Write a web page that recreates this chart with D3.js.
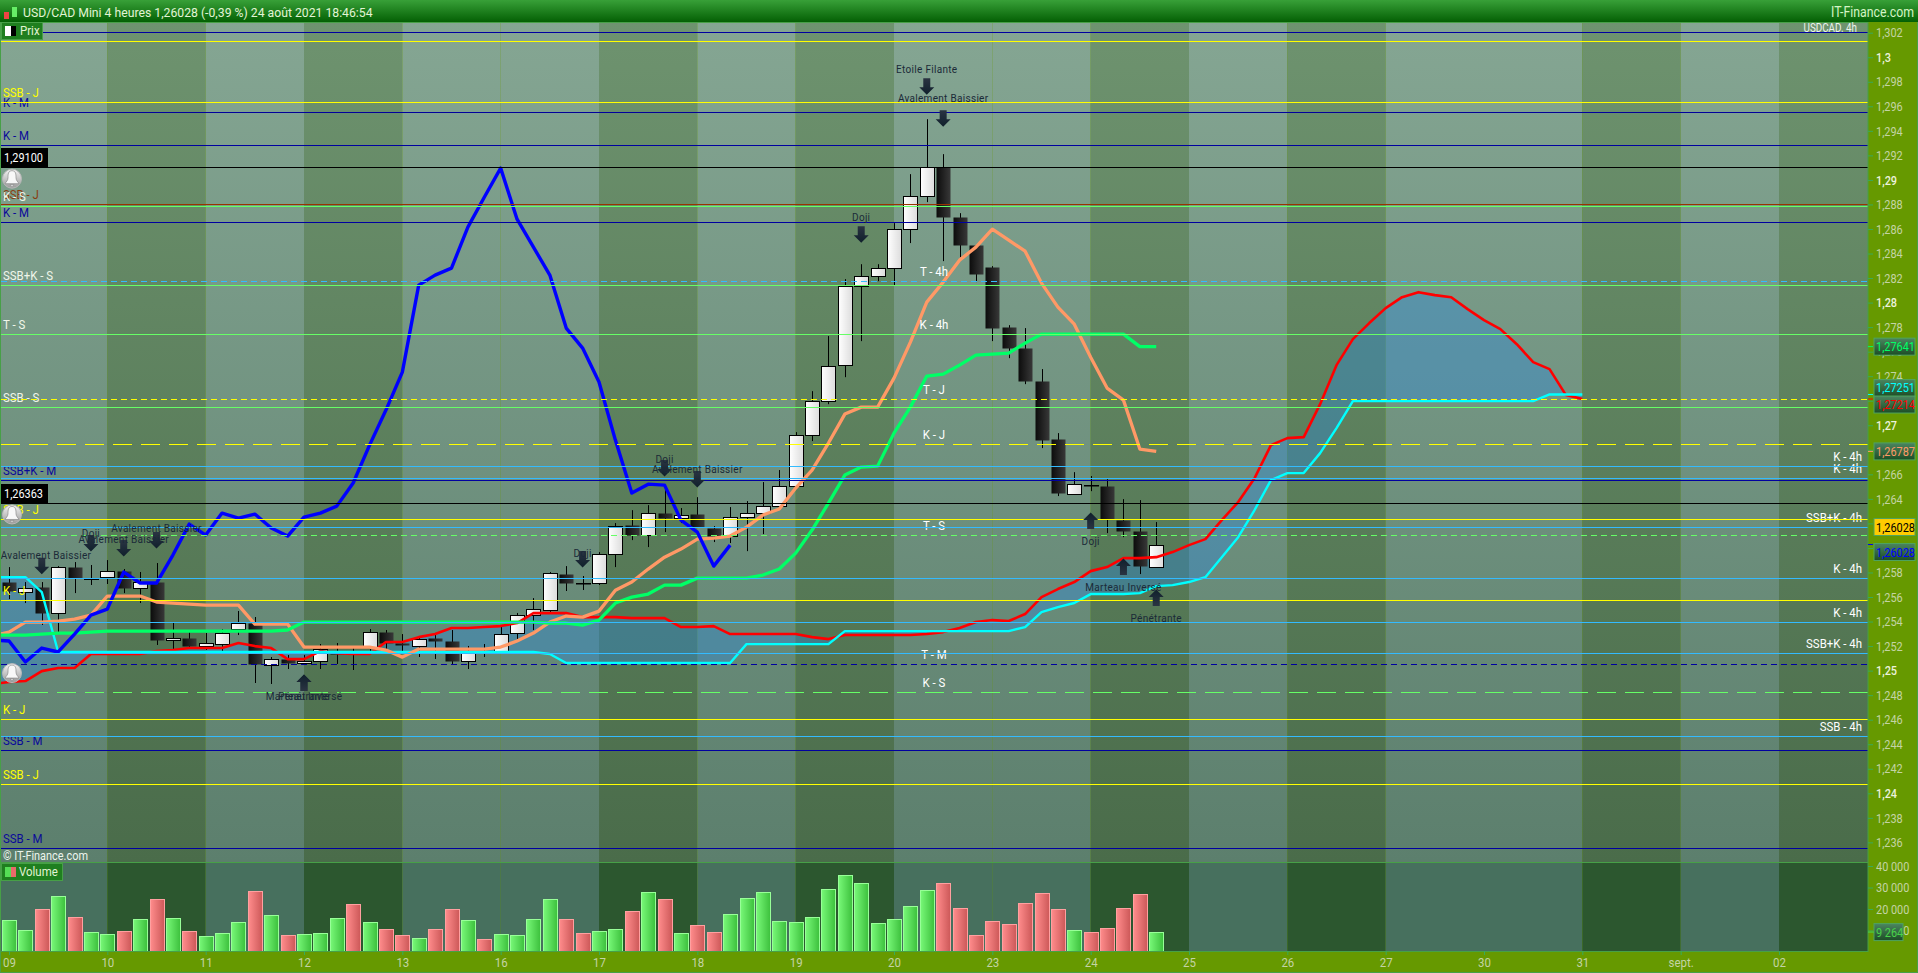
<!DOCTYPE html>
<html>
<head>
<meta charset="utf-8">
<title>USD/CAD Mini 4 heures</title>
<script src="https://cdnjs.cloudflare.com/ajax/libs/d3/7.8.5/d3.min.js"></script>
<style>
html, body { margin: 0; padding: 0; background: #669900; overflow: hidden; }
svg { display: block; font-family: Roboto, sans-serif; }
</style>
</head>
<body>
<div id="chart"></div>
<script>
// Candles (price pane)
var opens = [1.25722,1.25641,1.25681,1.25470,1.25844,1.25747,1.25763,1.25812,1.25673,1.25722,1.25250,1.25266,1.25201,1.25217,1.25339,1.25388,1.25046,1.25095,1.25062,1.25078,1.25144,1.25144,1.25193,1.25315,1.25225,1.25201,1.25266,1.25241,1.25078,1.25152,1.25144,1.25307,1.25453,1.25494,1.25787,1.25714,1.25714,1.25950,1.26186,1.26105,1.26284,1.26243,1.26276,1.26162,1.26097,1.26251,1.26284,1.26341,1.26504,1.26920,1.27197,1.27490,1.28134,1.28216,1.28281,1.28599,1.28868,1.29104,1.28696,1.28468,1.28289,1.27800,1.27629,1.27360,1.26887,1.26439,1.26512,1.26504,1.26227,1.26137,1.25852];
var closes = [1.25649,1.25673,1.25470,1.25844,1.25755,1.25755,1.25812,1.25673,1.25722,1.25250,1.25266,1.25201,1.25225,1.25307,1.25388,1.25054,1.25095,1.25062,1.25078,1.25176,1.25135,1.25135,1.25315,1.25225,1.25209,1.25258,1.25241,1.25078,1.25160,1.25160,1.25298,1.25453,1.25502,1.25796,1.25714,1.25714,1.25950,1.26178,1.26105,1.26284,1.26243,1.26268,1.26170,1.26097,1.26251,1.26284,1.26341,1.26504,1.26920,1.27197,1.27482,1.28134,1.28216,1.28281,1.28599,1.28868,1.29104,1.28696,1.28468,1.28232,1.27792,1.27629,1.27360,1.26879,1.26447,1.26520,1.26512,1.26235,1.26137,1.25852,1.26028];
var highs = [1.25844,1.25722,1.25722,1.25852,1.25885,1.25861,1.25901,1.25828,1.25804,1.25877,1.25388,1.25315,1.25307,1.25339,1.25486,1.25437,1.25111,1.25127,1.25127,1.25217,1.25225,1.25193,1.25339,1.25331,1.25298,1.25274,1.25307,1.25331,1.25201,1.25217,1.25355,1.25470,1.25591,1.25804,1.25852,1.25771,1.25966,1.26203,1.26308,1.26349,1.26512,1.26325,1.26414,1.26178,1.26333,1.26382,1.26537,1.26635,1.26944,1.27278,1.27727,1.28191,1.28313,1.28313,1.28648,1.29047,1.29495,1.29210,1.28729,1.28468,1.28297,1.27816,1.27792,1.27458,1.26936,1.26618,1.26586,1.26561,1.26398,1.26390,1.26211];
var lows = [1.25583,1.25551,1.25372,1.25307,1.25632,1.25698,1.25706,1.25632,1.25551,1.25209,1.25168,1.25184,1.25168,1.25152,1.25290,1.24899,1.24891,1.25013,1.25046,1.25013,1.25054,1.25005,1.25144,1.25144,1.25152,1.25111,1.25095,1.25054,1.25013,1.25111,1.25144,1.25250,1.25331,1.25470,1.25649,1.25657,1.25698,1.25844,1.26064,1.26007,1.26129,1.26203,1.26170,1.26048,1.26040,1.25974,1.26113,1.26333,1.26496,1.26871,1.27172,1.27392,1.27686,1.28175,1.28142,1.28485,1.28819,1.28338,1.28370,1.28167,1.27686,1.27547,1.27335,1.26814,1.26423,1.26439,1.26463,1.26121,1.26088,1.25787,1.25844];

// Ichimoku lines, the first value is the period before the first candle
var chikou = [1.25250,1.25241,1.25070,1.25184,1.25152,1.25298,1.25453,1.25502,1.25803,1.25714,1.25714,1.25942,1.26194,1.26105,1.26284,1.26243,1.26276,1.26162,1.26097,1.26251,1.26284,1.26341,1.26529,1.26838,1.27124,1.27433,1.28142,1.28224,1.28281,1.28615,1.28859,1.29096,1.28680,1.28452,1.28224,1.27792,1.27629,1.27352,1.26879,1.26447,1.26520,1.26512,1.26227,1.26129,1.25852,1.26023];
var tenkan = [1.25282,1.25314,1.25396,1.25396,1.25404,1.25420,1.25453,1.25608,1.25608,1.25608,1.25559,1.25551,1.25542,1.25534,1.25534,1.25534,1.25379,1.25379,1.25379,1.25192,1.25192,1.25192,1.25192,1.25192,1.25168,1.25110,1.25176,1.25176,1.25176,1.25176,1.25176,1.25192,1.25241,1.25306,1.25396,1.25445,1.25436,1.25485,1.25656,1.25722,1.25828,1.25925,1.25991,1.26072,1.26080,1.26097,1.26170,1.26268,1.26317,1.26488,1.26635,1.26855,1.27091,1.27148,1.27148,1.27384,1.27678,1.28004,1.28167,1.28346,1.28452,1.28599,1.28509,1.28419,1.28159,1.27963,1.27824,1.27555,1.27303,1.27205,1.26806,1.26787];
var kijun = [1.25290,1.25290,1.25290,1.25298,1.25306,1.25306,1.25314,1.25322,1.25322,1.25322,1.25322,1.25322,1.25322,1.25322,1.25322,1.25322,1.25322,1.25322,1.25331,1.25396,1.25396,1.25396,1.25396,1.25396,1.25396,1.25396,1.25396,1.25396,1.25396,1.25396,1.25396,1.25396,1.25396,1.25396,1.25388,1.25388,1.25371,1.25412,1.25551,1.25599,1.25624,1.25697,1.25697,1.25754,1.25754,1.25754,1.25754,1.25779,1.25828,1.25958,1.26146,1.26366,1.26594,1.26659,1.26667,1.26936,1.27148,1.27401,1.27417,1.27490,1.27572,1.27580,1.27588,1.27670,1.27743,1.27743,1.27743,1.27743,1.27743,1.27743,1.27641,1.27641];
var ssb = [1.24891,1.24907,1.24915,1.24996,1.25021,1.25021,1.25135,1.25135,1.25135,1.25135,1.25159,1.25168,1.25184,1.25184,1.25184,1.25225,1.25200,1.25184,1.25094,1.25094,1.25159,1.25143,1.25135,1.25135,1.25233,1.25233,1.25273,1.25298,1.25347,1.25347,1.25355,1.25363,1.25388,1.25469,1.25469,1.25469,1.25436,1.25436,1.25436,1.25428,1.25428,1.25428,1.25355,1.25355,1.25363,1.25298,1.25298,1.25298,1.25298,1.25298,1.25273,1.25257,1.25290,1.25290,1.25290,1.25290,1.25290,1.25298,1.25314,1.25347,1.25396,1.25412,1.25404,1.25461,1.25599,1.25665,1.25722,1.25811,1.25844,1.25917,1.25917,1.25925,1.25966,1.26023,1.26072,1.26227,1.26374,1.26569,1.26838,1.26895,1.26903,1.27172,1.27490,1.27702,1.27833,1.27955,1.28044,1.28085,1.28061,1.28044,1.27947,1.27857,1.27784,1.27661,1.27515,1.27458,1.27246,1.27214];
var ssa = [1.25762,1.25762,1.25762,1.25640,1.25152,1.25152,1.25152,1.25152,1.25152,1.25152,1.25152,1.25152,1.25152,1.25152,1.25152,1.25152,1.25152,1.25152,1.25152,1.25152,1.25152,1.25152,1.25152,1.25152,1.25152,1.25152,1.25152,1.25152,1.25152,1.25152,1.25152,1.25152,1.25152,1.25152,1.25135,1.25062,1.25062,1.25062,1.25062,1.25062,1.25062,1.25062,1.25062,1.25062,1.25062,1.25062,1.25216,1.25216,1.25216,1.25216,1.25216,1.25216,1.25322,1.25322,1.25322,1.25322,1.25322,1.25322,1.25322,1.25322,1.25322,1.25322,1.25322,1.25355,1.25477,1.25518,1.25551,1.25624,1.25624,1.25624,1.25632,1.25689,1.25697,1.25722,1.25762,1.25925,1.26088,1.26309,1.26553,1.26610,1.26610,1.26773,1.26977,
    1.27197,1.27197,1.27197,1.27197,1.27197,1.27197,1.27197,1.27197,1.27197,1.27197,1.27197,1.27197,
    1.27251,1.27251,1.27251];

// Volume
var volumes = [14730,10080,19840,25890,16120,9150,8220,9610,15190,24490,15660,9610,7290,8680,13800,28220,17050,7750,8220,8680,15660,22170,13800,10540,7750,6360,10540,19840,14730,5890,8220,7750,15190,24490,15190,8680,9610,10540,18910,27750,24490,8680,12400,9150,17520,24960,27750,14260,13800,16120,29150,35660,31940,13330,15190,21240,28680,31940,20310,7750,14260,12870,22640,27290,19840,10080,9150,11010,20310,26820,9264];
var volumeUp = [1,1,0,1,0,1,1,0,1,0,1,0,1,1,1,0,1,0,1,1,1,0,1,0,0,1,0,0,1,0,1,1,1,1,0,0,1,1,0,1,0,1,0,0,1,1,1,1,1,1,1,1,1,1,1,1,1,0,0,0,0,0,0,0,0,1,0,0,0,0,1];

// Days on the time axis, with the shade of each band (1 = light)
var dayLabels = ['09','10','11','12','13','16','17','18','19','20','23','24','25','26','27','30','31','sept.','02'];
var dayShade = [1,0,1,0,1,1,0,1,0,1,1,0,1,0,1,1,0,1,0];

// Horizontal levels
var levelPrices = [1.30198,1.30127,1.29630,1.29548,1.29279,1.29100,1.28798,1.28782,1.28652,1.28171,1.28138,1.27739,1.27739,1.27209,1.27144,1.26842,1.26663,1.26565,1.26553,1.26363,1.26231,1.26166,1.26101,1.25750,1.25571,1.25392,1.25139,1.25049,1.24821,1.24601,1.24462,1.24349,1.24072,1.23550];
var levelNames = ['','','SSB - J','K - M','K - M','','SSB - J','K - S','K - M','T - 4h','SSB+K - S','K - 4h','T - S','T - J','SSB - S','K - J','K - 4h','K - 4h','SSB+K - M','','SSB - J','SSB+K - 4h','T - S','K - 4h','K - J','K - 4h','SSB+K - 4h','T - M','K - S','K - J','SSB - 4h','SSB - M','SSB - J','SSB - M'];
var levelFrames = ['M','J','J','M','M','A','B','S','M','H','S','H','S','J','S','J','H','H','M','A','J','H','S','H','J','H','H','M','S','J','H','M','J','M'];
var levelSides = ['l','l','l','l','l','l','l','l','l','c','l','c','l','c','l','c','r','r','l','l','l','r','c','r','l','r','r','c','c','l','r','l','l','l'];
var levelKinds = [0,0,0,0,0,0,0,0,0,1,0,2,0,1,0,2,0,0,0,0,0,0,1,0,0,0,0,1,2,0,0,0,0,0];

// Candlestick patterns
var patternIndex = [2,5,7,9,18,18,35,40,42,52,56,57,66,68,70];
var patternNames = ['Avalement Baissier','Doji','Avalement Baissier','Avalement Baissier','Marteau Inversé','Pénétrante','Doji','Doji','Avalement Baissier','Doji','Etoile Filante','Avalement Baissier','Doji','Marteau Inversé','Pénétrante'];
var patternUp = [0,0,0,0,1,1,0,0,0,0,0,0,1,1,1];
var patternArrow = [1.25855,1.26040,1.25999,1.26064,1.24899,1.24899,1.25909,1.26651,1.26561,1.28558,1.29764,1.29503,1.26219,1.25844,1.25591];
var patternText = [1.25942,1.26121,1.26072,1.26162,1.24793,1.24793,1.25958,1.26724,1.26643,1.28696,1.29903,1.29666,1.26056,1.25681,1.25428];

// Axis ticks
var priceTicks = [1.236,1.238,1.24,1.242,1.244,1.246,1.248,1.25,1.252,1.254,1.256,1.258,1.26,1.262,1.264,1.266,1.268,1.27,1.272,1.274,1.276,1.278,1.28,1.282,1.284,1.286,1.288,1.29,1.292,1.294,1.296,1.298,1.3,1.302];
var volumeTicks = [10000,20000,30000,40000];

// Last values on the right axis
var lastValues = [1.27641,1.27251,1.27214,1.26787,1.26028,1.26028];
var lastColors = ['#00ff66','#00ffff','#ff0000','#ff9966','#000000','#0000ff'];
var lastNudge = [0,-6.5,5.5,0,-17.5,7.5];

var chart_width = 1918
var chart_height = 973
var pane_right = 1868
var label_font = 13

var x = d3.scaleLinear().domain([0, 108]).range([9, 1779]);
var y = d3.scaleLinear().domain([1.24, 1.302]).range([793.3, 32.7]);
var yVol = d3.scaleLinear().domain([0, 40000]).range([952, 866]);

// ticks of the time axis: 6 candles per day
var dayIndex = dayLabels.map(function(d, i){ return i * 6; });

var svg = d3.select('#chart')
    .append('svg')
    .attr('width', chart_width)
    .attr('height', chart_height);

var defs = svg.append('defs');

defs.append('clipPath').attr('id', 'pane')
    .append('rect').attr('x', 1).attr('y', 22).attr('width', pane_right - 1).attr('height', 840);

function gradient(id, c1, c2, vertical) {
    var g = defs.append('linearGradient').attr('id', id)
        .attr('x1', 0).attr('y1', 0)
        .attr('x2', vertical ? 0 : 1).attr('y2', vertical ? 1 : 0);
    g.append('stop').attr('offset', '0%').attr('stop-color', c1);
    g.append('stop').attr('offset', '100%').attr('stop-color', c2);
}

// the original font is narrower than Roboto
function squeeze(sel, ratio) {
    sel.each(function(){
        var w = this.getComputedTextLength();
        if (w > 0) {
            d3.select(this)
                .attr('textLength', w * ratio)
                .attr('lengthAdjust', 'spacingAndGlyphs');
        }
    });
}

gradient('paneLight', '#85a693', '#5c7f6d', true);
gradient('paneDark', '#6e936f', '#4a6c4a', true);
gradient('titleBar', '#38a038', '#046004', true);
gradient('candleWhite', '#ffffff', '#dcdcdc', false);
gradient('candleBlack', '#0c0c0c', '#383838', false);
gradient('barGreen', '#78f878', '#3cc03c', false);
gradient('barRed', '#ff8c8c', '#cc5858', false);
gradient('arrowFill', '#2a3442', '#10202c', true);
gradient('lastBox', '#4b8560', '#1d4d26', true);
gradient('bellFill', '#f4f4f4', '#9a9a9a', true);

function dayEnd(i) {
    return i < dayIndex.length - 1 ? x(dayIndex[i + 1]) : pane_right;
}
function dayStart(i) {
    return i === 0 ? 0 : x(dayIndex[i]);
}

// Bands behind the price pane
svg.selectAll('.band')
    .data(dayIndex)
    .enter()
    .append('rect')
    .attr('class', 'band')
    .attr('x', function(d, i){ return dayStart(i); })
    .attr('y', 22)
    .attr('width', function(d, i){ return dayEnd(i) - dayStart(i); })
    .attr('height', 840)
    .attr('fill', function(d, i){ return dayShade[i] ? 'url(#paneLight)' : 'url(#paneDark)'; });

// Bands behind the volume pane
svg.selectAll('.vband')
    .data(dayIndex)
    .enter()
    .append('rect')
    .attr('class', 'vband')
    .attr('x', function(d, i){ return dayStart(i); })
    .attr('y', 862)
    .attr('width', function(d, i){ return dayEnd(i) - dayStart(i); })
    .attr('height', 89)
    .attr('fill', function(d, i){ return dayShade[i] ? '#47705e' : '#2c572f'; });

var pane = svg.append('g').attr('clip-path', 'url(#pane)');

// Cloud between the two spans
var cloud = d3.area()
    .x(function(d, i){ return x(i - 1); })
    .y0(function(d, i){ return y(ssb[i]); })
    .y1(function(d){ return y(d); });

pane.append('path')
    .attr('d', cloud(ssa))
    .attr('fill', '#2a88e0')
    .attr('fill-opacity', 0.38);

// Candles
pane.selectAll('.wick')
    .data(opens)
    .enter()
    .append('line')
    .attr('class', 'wick')
    .attr('x1', function(d, i){ return Math.round(x(i)) + 0.5; })
    .attr('x2', function(d, i){ return Math.round(x(i)) + 0.5; })
    .attr('y1', function(d, i){ return y(highs[i]); })
    .attr('y2', function(d, i){ return y(lows[i]); })
    .attr('stroke', '#000')
    .attr('stroke-width', 1);

pane.selectAll('.body')
    .data(opens)
    .enter()
    .append('rect')
    .attr('class', 'body')
    .attr('x', function(d, i){ return Math.round(x(i)) - 6.5; })
    .attr('y', function(d, i){ return Math.round(y(Math.max(d, closes[i]))) + 0.5; })
    .attr('width', 14)
    .attr('height', function(d, i){
        return Math.max(0.5, Math.round(Math.abs(y(d) - y(closes[i]))));
    })
    .attr('fill', function(d, i){ return closes[i] >= d ? 'url(#candleWhite)' : 'url(#candleBlack)'; })
    .attr('stroke', function(d, i){ return closes[i] >= d ? '#000' : 'none'; })
    .attr('stroke-width', 1);

// Ichimoku lines
var line = d3.line()
    .x(function(d, i){ return x(i - 1); })
    .y(function(d){ return y(d); });

function drawLine(values, color, width) {
    pane.append('path')
        .attr('d', line(values))
        .attr('fill', 'none')
        .attr('stroke', color)
        .attr('stroke-width', width)
        .attr('stroke-linejoin', 'round');
}

drawLine(ssb, '#ff0000', 2.6);
drawLine(ssa, '#00ffff', 2.4);
drawLine(tenkan, '#ff9966', 3.3);
drawLine(kijun, '#00ff66', 3.3);
drawLine(chikou, '#0000ff', 3.4);

// Level labels, the lines run over them
var frameLabel = { M: '#0a0a9a', J: '#ffff00', S: '#f0f6ea', H: '#ffffff', B: '#8a3c10', A: '#000' };

svg.selectAll('.levelLabel')
    .data(levelPrices)
    .enter()
    .append('text')
    .attr('class', 'levelLabel')
    .text(function(d, i){ return levelNames[i]; })
    .attr('x', function(d, i){
        return levelSides[i] === 'l' ? 3 : levelSides[i] === 'r' ? 1862 : 934;
    })
    .attr('y', function(d){ return Math.floor(y(d)) - 5; })
    .attr('text-anchor', function(d, i){
        return levelSides[i] === 'l' ? 'start' : levelSides[i] === 'r' ? 'end' : 'middle';
    })
    .attr('font-size', label_font)
    .attr('fill', function(d, i){
        return levelSides[i] === 'l' ? frameLabel[levelFrames[i]] : '#ffffff';
    })
    .call(squeeze, 0.88);

// Level lines
var frameColor = { M: '#0000a0', J: '#ffff00', S: '#66ff66', H: '#33bbff', B: '#993300', A: '#000000' };
var kindDash = ['none', '6,4', '19,9'];

svg.selectAll('.level')
    .data(levelPrices)
    .enter()
    .append('line')
    .attr('class', 'level')
    .attr('x1', 1)
    .attr('x2', pane_right)
    .attr('y1', function(d){ return Math.floor(y(d)) + 0.5; })
    .attr('y2', function(d){ return Math.floor(y(d)) + 0.5; })
    .attr('stroke', function(d, i){ return frameColor[levelFrames[i]]; })
    .attr('stroke-width', 1)
    .attr('stroke-dasharray', function(d, i){ return kindDash[levelKinds[i]]; });

// Boxes of the two alert lines, and their bells
var alertPrices = levelPrices.filter(function(d, i){ return levelFrames[i] === 'A'; });

svg.selectAll('.alertBox')
    .data(alertPrices)
    .enter()
    .append('rect')
    .attr('class', 'alertBox')
    .attr('x', 1)
    .attr('y', function(d){ return Math.floor(y(d)) - 19; })
    .attr('width', 47)
    .attr('height', 19)
    .attr('fill', '#000');

svg.selectAll('.alertText')
    .data(alertPrices)
    .enter()
    .append('text')
    .attr('class', 'alertText')
    .text(function(d){ return d.toFixed(5).replace('.', ','); })
    .attr('x', 4)
    .attr('y', function(d){ return Math.floor(y(d)) - 5; })
    .attr('font-size', label_font)
    .attr('fill', '#fff')
    .call(squeeze, 0.84);

var bellPrices = [1.29100 - 0.00090, 1.26363 - 0.00090, 1.24980];

var bells = svg.selectAll('.bell')
    .data(bellPrices)
    .enter()
    .append('g')
    .attr('class', 'bell')
    .attr('transform', function(d){ return 'translate(12,' + y(d) + ')'; });

bells.append('circle')
    .attr('r', 9.5)
    .attr('fill', 'url(#bellFill)')
    .attr('stroke', '#b8b8b8');

bells.append('path')
    .attr('d', 'M0,-8 C4,-8 4,-4 4,-1 C4,2 6,3 7,5 L-7,5 C-6,3 -4,2 -4,-1 C-4,-4 -4,-8 0,-8 Z M-2,6 L2,6 L0,8 Z')
    .attr('fill', '#f8f8f8')
    .attr('stroke', '#8a8a8a')
    .attr('stroke-width', 0.7);

// Pattern arrows and names
svg.selectAll('.arrow')
    .data(patternArrow)
    .enter()
    .append('path')
    .attr('class', 'arrow')
    .attr('d', 'M-3.5,-8 L3.5,-8 L3.5,1 L7.5,1 L0,8.5 L-7.5,1 L-3.5,1 Z')
    .attr('transform', function(d, i){
        return 'translate(' + x(patternIndex[i]) + ',' + y(d) + ')' + (patternUp[i] ? ' scale(1,-1)' : '');
    })
    .attr('fill', 'url(#arrowFill)');

svg.selectAll('.pattern')
    .data(patternText)
    .enter()
    .append('text')
    .attr('class', 'pattern')
    .text(function(d, i){ return patternNames[i]; })
    .attr('x', function(d, i){ return Math.max(46, x(patternIndex[i])); })
    .attr('y', function(d){ return y(d) + 4; })
    .attr('text-anchor', 'middle')
    .attr('font-size', 10)
    .attr('letter-spacing', 0.3)
    .attr('fill', '#1b2a38');

// Volume bars
svg.selectAll('.vol')
    .data(volumes)
    .enter()
    .append('rect')
    .attr('class', 'vol')
    .attr('x', function(d, i){ return Math.round(x(i)) - 6.5; })
    .attr('y', function(d){ return Math.round(yVol(d)) + 0.5; })
    .attr('width', 14)
    .attr('height', function(d){ return 951 - Math.round(yVol(d)); })
    .attr('fill', function(d, i){ return volumeUp[i] ? 'url(#barGreen)' : 'url(#barRed)'; })
    .attr('stroke', function(d, i){ return volumeUp[i] ? '#98ff98' : '#ffa0a0'; })
    .attr('stroke-width', 1);

// Right and bottom strips
svg.append('rect').attr('x', pane_right).attr('y', 22).attr('width', chart_width - pane_right).attr('height', chart_height - 22).attr('fill', '#669900');
svg.append('rect').attr('x', 0).attr('y', 951).attr('width', chart_width).attr('height', chart_height - 951).attr('fill', '#669900');

// Pane borders
svg.append('line').attr('x1', 0).attr('x2', pane_right).attr('y1', 862.5).attr('y2', 862.5).attr('stroke', '#47a047');
svg.append('rect').attr('x', 0.5).attr('y', 22.5).attr('width', pane_right - 0.5).attr('height', 929).attr('fill', 'none').attr('stroke', '#47a047');
svg.append('rect').attr('x', 0.5).attr('y', 0.5).attr('width', chart_width - 1).attr('height', chart_height - 1).attr('fill', 'none').attr('stroke', '#47a047');

// Axes
var priceAxis = d3.axisRight(y)
    .tickValues(priceTicks)
    .tickSize(5)
    .tickPadding(3)
    .tickFormat(function(d){ return String(+d.toFixed(3)).replace('.', ','); });

var priceG = svg.append('g')
    .attr('transform', 'translate(' + pane_right + ',0)')
    .call(priceAxis);

function isRound(d) {
    return Math.abs(d * 100 - Math.round(d * 100)) < 1e-6;
}

priceG.select('.domain').remove();
priceG.selectAll('line').attr('stroke', '#3aaa5a');
priceG.selectAll('text')
    .attr('font-size', label_font)
    .attr('font-family', 'Roboto, sans-serif')
    .attr('font-weight', function(d){ return isRound(d) ? 500 : 400; })
    .attr('fill', function(d){ return isRound(d) ? '#ecf2dc' : '#c4d4a4'; })
    .call(squeeze, 0.84);

var volumeAxis = d3.axisRight(yVol)
    .tickValues(volumeTicks)
    .tickSize(5)
    .tickPadding(3)
    .tickFormat(function(d){ return d3.format(',')(d).replace(',', ' '); });

var volumeG = svg.append('g')
    .attr('transform', 'translate(' + pane_right + ',0)')
    .call(volumeAxis);

volumeG.select('.domain').remove();
volumeG.selectAll('line').attr('stroke', '#3aaa5a');
volumeG.selectAll('text')
    .attr('font-size', label_font)
    .attr('font-family', 'Roboto, sans-serif')
    .attr('fill', '#c4d4a4')
    .call(squeeze, 0.84);

var timeAxis = d3.axisBottom(x)
    .tickValues(dayIndex)
    .tickSize(4)
    .tickPadding(3)
    .tickFormat(function(d, i){ return dayLabels[i]; });

var timeG = svg.append('g')
    .attr('transform', 'translate(0,951)')
    .call(timeAxis);

timeG.select('.domain').remove();
timeG.selectAll('line').attr('stroke', '#3aaa5a');
timeG.selectAll('text')
    .attr('font-size', label_font)
    .attr('font-family', 'Roboto, sans-serif')
    .attr('fill', '#c4d4a4')
    .call(squeeze, 0.88);

// Last value boxes
var lastBoxes = svg.selectAll('.last')
    .data(lastValues)
    .enter()
    .append('g')
    .attr('class', 'last')
    .attr('transform', function(d, i){ return 'translate(1874,' + (y(d) + lastNudge[i]) + ')'; });

lastBoxes.append('rect')
    .attr('y', -8.5)
    .attr('width', 41)
    .attr('height', 17)
    .attr('fill', function(d, i){ return i === 4 ? '#ffcc00' : 'url(#lastBox)'; })
    .attr('stroke', '#4fa35f');

lastBoxes.append('text')
    .text(function(d){ return d.toFixed(5).replace('.', ','); })
    .attr('x', 2)
    .attr('y', 4.5)
    .attr('font-size', label_font)
    .attr('fill', function(d, i){ return lastColors[i]; })
    .call(squeeze, 0.84);

svg.selectAll('.lastTick')
    .data(lastValues)
    .enter()
    .append('line')
    .attr('class', 'lastTick')
    .attr('x1', pane_right)
    .attr('x2', pane_right + 5)
    .attr('y1', function(d){ return y(d); })
    .attr('y2', function(d){ return y(d); })
    .attr('stroke', function(d, i){ return lastColors[i]; });

var lastVol = svg.append('g')
    .attr('transform', 'translate(1874,' + yVol(volumes[volumes.length - 1]) + ')');

lastVol.append('rect')
    .attr('y', -8.5)
    .attr('width', 29)
    .attr('height', 17)
    .attr('fill', 'url(#lastBox)')
    .attr('stroke', '#4fa35f');

lastVol.append('text')
    .text(d3.format(',')(volumes[volumes.length - 1]).replace(',', ' '))
    .attr('x', 2)
    .attr('y', 4.5)
    .attr('font-size', label_font)
    .attr('fill', '#49d249')
    .call(squeeze, 0.84);

svg.append('line')
    .attr('x1', pane_right).attr('x2', pane_right + 6)
    .attr('y1', yVol(volumes[volumes.length - 1])).attr('y2', yVol(volumes[volumes.length - 1]))
    .attr('stroke', '#49d249');

// Title bar
svg.append('rect').attr('x', 0).attr('y', 0).attr('width', chart_width).attr('height', 22).attr('fill', 'url(#titleBar)');

svg.append('rect').attr('x', 4).attr('y', 12).attr('width', 5).attr('height', 7).attr('fill', '#ee4444');
svg.append('rect').attr('x', 12).attr('y', 7).attr('width', 5).attr('height', 10).attr('fill', '#66ee66');

svg.append('text')
    .text('USD/CAD Mini 4 heures 1,26028 (-0,39 %) 24 août 2021 18:46:54')
    .attr('x', 23)
    .attr('y', 17)
    .attr('font-size', 13)
    .attr('fill', '#e2f4d4')
    .call(squeeze, 0.94);

svg.append('text')
    .text('IT-Finance.com')
    .attr('x', 1914)
    .attr('y', 17)
    .attr('text-anchor', 'end')
    .attr('font-size', 15)
    .attr('fill', '#d4f4c4')
    .call(squeeze, 0.82);

svg.append('text')
    .text('USDCAD. 4h')
    .attr('x', 1857)
    .attr('y', 32)
    .attr('text-anchor', 'end')
    .attr('font-size', 12)
    .attr('fill', '#ecf4ec')
    .call(squeeze, 0.82);

svg.append('text')
    .text('© IT-Finance.com')
    .attr('x', 3)
    .attr('y', 860)
    .attr('font-size', label_font)
    .attr('fill', '#ecf4ec')
    .call(squeeze, 0.84);

// Pane names
svg.append('rect').attr('x', 1.5).attr('y', 22.5).attr('width', 41).attr('height', 17).attr('fill', '#1f7f1f').attr('stroke', '#47a047');
svg.append('rect').attr('x', 5).attr('y', 26).attr('width', 6).attr('height', 10).attr('fill', '#ffffff');
svg.append('rect').attr('x', 11).attr('y', 26).attr('width', 5).attr('height', 10).attr('fill', '#000000');
svg.append('text').text('Prix').attr('x', 20).attr('y', 35).attr('font-size', label_font).attr('fill', '#e2f4d4').call(squeeze, 0.88);

svg.append('rect').attr('x', 1.5).attr('y', 863.5).attr('width', 61).attr('height', 17).attr('fill', '#1f7f1f').attr('stroke', '#47a047');
svg.append('rect').attr('x', 5).attr('y', 867).attr('width', 6).attr('height', 10).attr('fill', '#55dd55');
svg.append('rect').attr('x', 11).attr('y', 867).attr('width', 5).attr('height', 10).attr('fill', '#e86a6a');
svg.append('text').text('Volume').attr('x', 19).attr('y', 876).attr('font-size', label_font).attr('fill', '#e2f4d4').call(squeeze, 0.88);
</script>
</body>
</html>
